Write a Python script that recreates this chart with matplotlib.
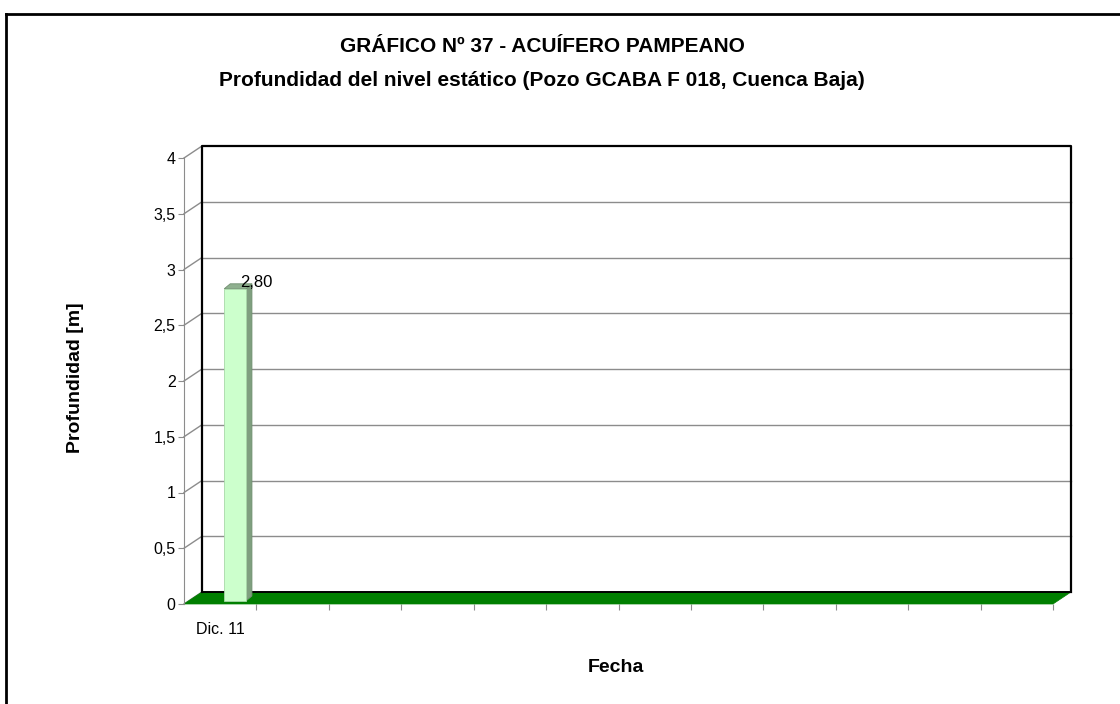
import matplotlib
matplotlib.use('Agg')
import matplotlib.pyplot as plt
from matplotlib.patches import Polygon
from matplotlib.lines import Line2D

plt.rcParams['font.family'] = ['Liberation Sans', 'DejaVu Sans']

# data
fechas = ['Dic. 11']
profundidad = [2.80]
n_slots = 12
y_ticks = [0, 0.5, 1, 1.5, 2, 2.5, 3, 3.5, 4]
y_labels = ['0', '0,5', '1', '1,5', '2', '2,5', '3', '3,5', '4']
titulo = 'GRÁFICO Nº 37 - ACUÍFERO PAMPEANO'
subtitulo = 'Profundidad del nivel estático (Pozo GCABA F 018, Cuenca Baja)'

W, H = 1120, 704
fig = plt.figure(figsize=(W / 100, H / 100), dpi=100)
fig.patch.set_facecolor('white')

# front plane of the pseudo-3d box
x0, x1, y0, y1 = 184, 1053, 604, 158
ax = fig.add_axes([x0 / W, 1 - y0 / H, (x1 - x0) / W, (y0 - y1) / H])
ax.set_xlim(0, n_slots)
ax.set_ylim(0, 4)
ax.patch.set_alpha(0)

px_x = n_slots / (x1 - x0)
px_y = 4 / (y0 - y1)


def off(x, y, dx, dy):
    return (x + dx * px_x, y + dy * px_y)


DX, DY = 18, 12  # depth of the box in pixels

# back wall grid
for t in y_ticks[1:-1]:
    ax.add_line(Line2D([off(0, t, DX, DY)[0], off(n_slots, t, DX, DY)[0]],
                       [off(0, t, DX, DY)[1]] * 2, color='#8c8c8c', lw=1, clip_on=False, zorder=1))
# side wall diagonals
for t in y_ticks:
    p, q = (0, t), off(0, t, DX, DY)
    ax.add_line(Line2D([p[0], q[0]], [p[1], q[1]], color='#8c8c8c', lw=1, clip_on=False, zorder=1))

# floor
floor = Polygon([(0, 0), (n_slots, 0), off(n_slots, 0, DX, DY), off(0, 0, DX, DY)],
                closed=True, facecolor='#007f00', edgecolor='#007f00', lw=0.5,
                clip_on=False, zorder=2)
ax.add_patch(floor)

# back wall frame
bl, br = off(0, 0, DX, DY), off(n_slots, 0, DX, DY)
tl, tr = off(0, 4, DX, DY), off(n_slots, 4, DX, DY)
ax.add_line(Line2D([bl[0], tl[0], tr[0], br[0]], [bl[1], tl[1], tr[1], br[1]],
                   color='black', lw=1.6, clip_on=False, zorder=3))
ax.add_line(Line2D([bl[0], br[0]], [bl[1], br[1]], color='black', lw=1.4,
                   clip_on=False, zorder=3))

# bars
bw = 0.3
fx, fy = 4, 3     # bar front face offset
bx, by = 10, 8    # bar back face offset
for i, v in enumerate(profundidad):
    left = i + 0.5
    right = left + bw
    front = [off(left, 0, fx, fy), off(right, 0, fx, fy), off(right, v, fx, fy), off(left, v, fx, fy)]
    side = [off(right, 0, fx, fy), off(right, 0, bx, by), off(right, v, bx, by), off(right, v, fx, fy)]
    top = [off(left, v, fx, fy), off(right, v, fx, fy), off(right, v, bx, by), off(left, v, bx, by)]
    ax.add_patch(Polygon(side, facecolor='#7f9f7f', edgecolor='#6f8f6f', lw=0.6, clip_on=False, zorder=4))
    ax.add_patch(Polygon(top, facecolor='#8fb08f', edgecolor='#6f8f6f', lw=0.6, clip_on=False, zorder=4))
    ax.add_patch(Polygon(front, facecolor='#ccffcc', edgecolor='#a8d8a8', lw=0.6, clip_on=False, zorder=5))
    ax.annotate(f'{v:.2f}'.replace('.', ','), xy=(left + bw / 2, v), xytext=(9, 2),
                textcoords='offset pixels', ha='left', va='bottom', fontsize=12, zorder=6)

# axes styling
for s in ['top', 'right', 'bottom']:
    ax.spines[s].set_visible(False)
ax.spines['left'].set_color('#8c8c8c')
ax.set_yticks(y_ticks)
ax.set_yticklabels(y_labels)
ax.tick_params(axis='y', colors='#8c8c8c', length=4, pad=2, labelsize=11.5, labelcolor='black')
ax.set_xticks(range(1, n_slots + 1))
ax.set_xticklabels([])
ax.set_xticks([i + 0.5 for i in range(len(fechas))], minor=True)
ax.set_xticklabels(fechas, minor=True, fontsize=11.5)
ax.tick_params(axis='x', which='major', colors='#8c8c8c', length=4)
ax.tick_params(axis='x', which='minor', length=0, pad=13)

# texts
fig.text(542 / W, 1 - 47 / H, titulo, ha='center', va='center', fontsize=15, fontweight='bold')
fig.text(542 / W, 1 - 80 / H, subtitulo, ha='center', va='center', fontsize=15, fontweight='bold')
fig.text(75 / W, 1 - 378 / H, 'Profundidad [m]', ha='center', va='center', rotation=90,
         fontsize=14, fontweight='bold')
fig.text(616 / W, 1 - 667 / H, 'Fecha', ha='center', va='center', fontsize=14, fontweight='bold')

# outer frame: left and top edges only
fig.add_artist(Line2D([6 / W, 6 / W], [0, 1 - 14 / H], color='black', lw=2))
fig.add_artist(Line2D([6 / W, 1], [1 - 14 / H, 1 - 14 / H], color='black', lw=2))

fig.savefig('out.png', dpi=100)
